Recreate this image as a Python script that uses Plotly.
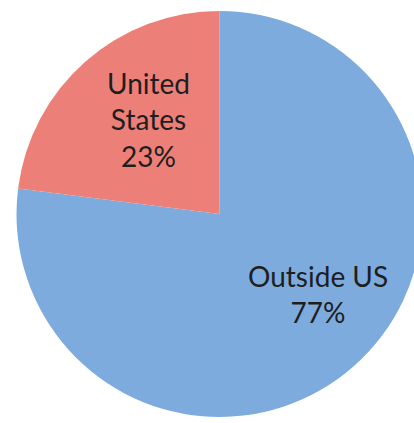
import plotly.graph_objects as go

labels = ["Outside US", "United States"]
values = [77, 23]
colors = ["#7DABDD", "#EC8078"]
label_lines = [["Outside US", "77%"], ["United", "States", "23%"]]

W, H = 424, 423  # figure a bit wider than the window; the right edge of the pie is cut like the original

fig = go.Figure(
    go.Pie(
        labels=labels,
        values=values,
        sort=False,
        direction="clockwise",
        rotation=0,
        marker=dict(colors=colors, line=dict(width=0)),
        textinfo="none",
        hoverinfo="label+percent",
        domain=dict(x=[16.5 / W, 422.5 / W], y=[6 / H, 412 / H]),
        showlegend=False,
    )
)

# label anchor positions in pixels (center of text block)
label_pos = [(318, 294), (148, 120)]
for lines, (px, py) in zip(label_lines, label_pos):
    fig.add_annotation(
        x=px / W,
        y=1 - py / H,
        xref="paper",
        yref="paper",
        text="<br>".join(lines),
        showarrow=False,
        font=dict(family="Lato", size=28, color="#1E1E1E"),
        align="center",
        xanchor="center",
        yanchor="middle",
    )

fig.update_layout(
    width=W,
    height=H,
    margin=dict(l=0, r=0, t=0, b=0),
    paper_bgcolor="white",
    plot_bgcolor="white",
)

fig.write_html(
    "out.html",
    config={"displayModeBar": False},
    post_script="document.body.style.margin='0';document.body.style.overflow='hidden';",
)
